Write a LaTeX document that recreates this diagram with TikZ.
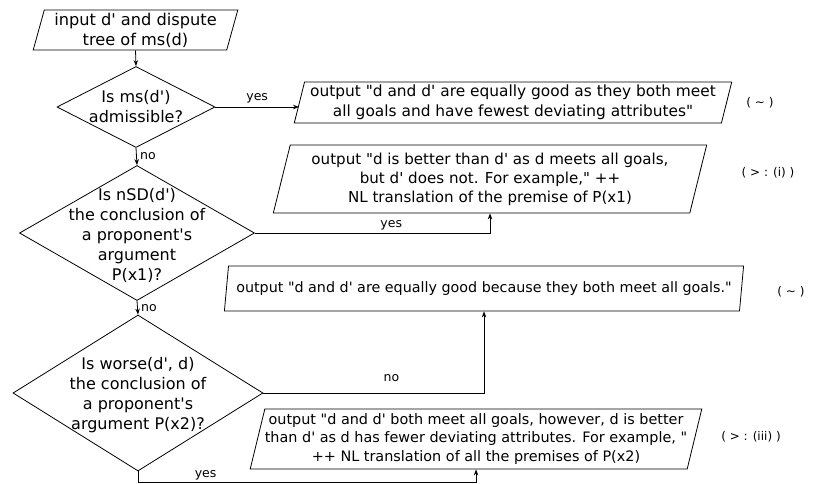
\documentclass[tikz,border=0pt]{standalone}
\usepackage{fontspec}
\setmainfont{DejaVu Sans}[Ligatures=TeXOff]
\usetikzlibrary{arrows.meta,shapes.geometric,positioning}

\begin{document}
\begin{tikzpicture}[x=1pt,y=-1pt,>={Stealth[length=6pt,width=4.5pt]},line width=0.8pt,
 io/.style={trapezium,trapezium left angle=74,trapezium right angle=106,
  trapezium stretches=true,draw,inner sep=0pt,align=center,
  font=\fontsize{15}{19}\selectfont},
 decision/.style={diamond,draw,inner sep=0pt},
 ask/.style={align=center,font=\fontsize{16}{20}\selectfont},
 lbl/.style={font=\fontsize{12.5}{15}\selectfont},
 tag/.style={font=\fontsize{12}{15}\selectfont}]
\useasboundingbox (0,0) rectangle (822,483);
% input and the three questions
\node [io,minimum width=205pt,minimum height=40pt,font=\fontsize{16.2}{20}\selectfont] (in) at (135.5,30) {input d' and dispute\\tree of ms(d)};
\node [decision,minimum width=158pt,minimum height=81pt] (q1) at (136,107) {};
\node [ask] (q1t) at (136,107) {Is ms(d')\\admissible?};
\node [decision,minimum width=235pt,minimum height=135pt] (q2) at (137,233) {};
\node [ask] (q2t) at (137,235) {Is nSD(d')\\the conclusion of\\a proponent's\\argument\\P(x1)?};
\node [decision,minimum width=250pt,minimum height=156pt] (q3) at (138,393) {};
\node [ask] (q3t) at (138,395) {Is worse(d', d)\\the conclusion of\\a proponent's\\argument P(x2)?};
% outputs
\node [io,minimum width=440pt,minimum height=41pt,font=\fontsize{15.4}{20}\selectfont] (a1) at (513,102.5) {output "d and d' are equally good as they both meet\\all goals and have fewest deviating attributes"};
\node [io,minimum width=434pt,minimum height=68pt,font=\fontsize{15.1}{19}\selectfont] (a2) at (490,179) {output "d is better than d' as d meets all goals,\\but d' does not. For example," ++\\NL translation of the premise of P(x1)};
\node [io,minimum width=520pt,minimum height=45pt,font=\fontsize{14.3}{19}\selectfont] (a3) at (484,288.5) {output "d and d' are equally good because they both meet all goals."};
\node [io,minimum width=448pt,minimum height=60pt,font=\fontsize{14.4}{18.5}\selectfont] (a4) at (476,439) {output "d and d' both meet all goals, however, d is better\\than d' as d has fewer deviating attributes. For example, "\\++ NL translation of all the premises of P(x2)};
% tags
\node [tag] (t1) at (760,103) {( \textasciitilde{} )};
\node [tag] (t2) at (768,173) {( > : (i) )};
\node [tag] (t3) at (791,292) {( \textasciitilde{} )};
\node [tag] (t4) at (751,437) {( > : (iii) )};
% connectors
\draw [->] (in.south) -- (q1.north);
\draw [->] (q1.east) -- (q1.east -| a1.west) node [lbl,midway,above] {yes};
\draw [->] (q1.south) -- (q2.north) node [lbl,midway,right] {no};
\draw [->] (q2.east) -| (a2.south) node [lbl,pos=0.29,above=-1pt] {yes};
\draw [->] (q2.south) -- (q3.north) node [lbl,midway,right] {no};
\draw [->] (q3.east) -| (a3.south) node [lbl,pos=0.29,above=8pt] {no};
\draw [->] (q3.south) -- ++(0,11) -| node [lbl,pos=0.1,above=-1pt] {yes} (a4.south);
\end{tikzpicture}
\end{document}
